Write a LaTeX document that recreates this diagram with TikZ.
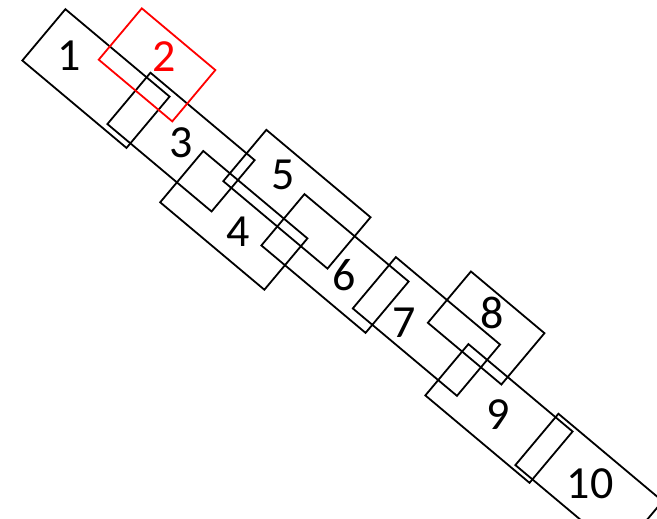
\documentclass[tikz,border=0pt]{standalone}
\usepackage{fontspec}
\setmainfont{Carlito}

\begin{document}
\begin{tikzpicture}[x=1pt,y=-1pt,
  box/.style={draw,line width=1.8pt,minimum width=136pt,minimum height=67pt,inner sep=0pt,transform shape},
  shortbox/.style={box,minimum width=96pt},
  num/.style={font=\fontsize{46}{50}\selectfont,inner sep=0pt}]
\useasboundingbox (0,0) rectangle (657,519);
\clip (0,0) rectangle (657,519);
\begin{scope}[rotate=-40]
\node(b1)[box] at (124,-1.5){};
\node(b3)[box] at (230,-7.5){};
\node(b4)[box] at (320.75,18.5){};
\node(b5)[box] at (355.5,-38.25){};
\node(b6)[box] at (426,-13.5){};
\node(b7)[box] at (536.5,-24){};
\node(b8)[shortbox] at (583.25,-61.25){};
\node(b9)[box] at (648,-4){};
\node(b10)[box] at (761.75,-8.5){};
\node(b2)[shortbox,draw=red] at (162,-51.25){};
\end{scope}
\node(l1)[num] at (69,56){1};
\node(l2)[num,text=red] at (164,56.5){2};
\node(l3)[num] at (181,143){3};
\node(l4)[num] at (238,231.5){4};
\node(l5)[num] at (283,174.5){5};
\node(l6)[num] at (344,275){6};
\node(l7)[num] at (404,323){7};
\node(l8)[num] at (492,312.5){8};
\node(l9)[num] at (498,415){9};
\node(l10)[num] at (590,483.5){10};
\end{tikzpicture}
\end{document}
